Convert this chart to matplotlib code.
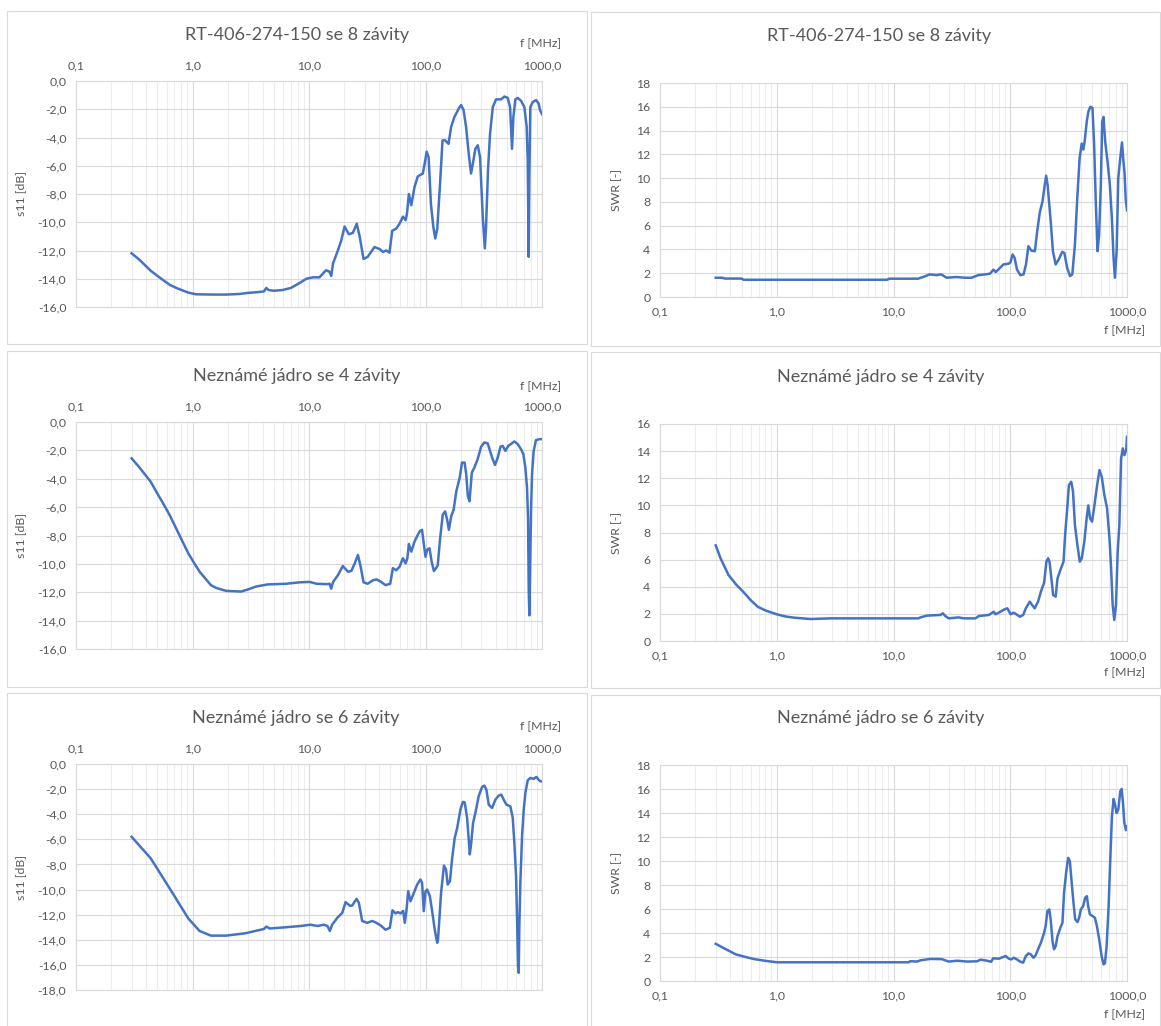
import numpy as np
import matplotlib
matplotlib.use("Agg")
import matplotlib.pyplot as plt
from matplotlib.patches import Rectangle
from matplotlib.ticker import LogLocator, NullFormatter, FuncFormatter

plt.rcParams['font.family'] = ['Lato', 'DejaVu Sans']

# frequency axis (log scale, MHz)
f_ticks = [0.1, 1, 10, 100, 1000]
f_tick_labels = ["0,1", "1,0", "10,0", "100,0", "1000,0"]

titles = ["RT-406-274-150 se 8 závity",
          "Neznámé jádro se 4 závity",
          "Neznámé jádro se 6 závity"]

# --- RT-406-274-150, 8 turns ---
f_s11_8 = [0.3, 0.35, 0.44, 0.55, 0.64, 0.75, 0.92, 1.07, 1.5, 1.94,
           2.5, 3.0, 3.6, 4.1, 4.3, 4.5, 5.0, 5.9, 7.0, 8.3,
           9.5, 10.8, 12.3, 14.0, 15.0, 15.5, 16.1, 17.7, 18.9, 20.2,
           22.0, 23.8, 25.7, 27.2, 29.4, 31.9, 36.5, 40.4, 43.1, 46.0,
           49.1, 51.8, 56.1, 59.9, 64.0, 67.5, 69.3, 72.0, 75.5, 80.5,
           85.9, 94.8, 98.4, 102.3, 106.4, 111.3, 116.6, 121.3, 126.2, 132.8,
           140, 147.5, 157.5, 166, 177, 193, 202, 212, 223, 235,
           246, 255, 268, 281, 294, 310, 323, 331, 344, 358,
           378, 403, 445, 476, 508, 532, 553, 568, 591, 619,
           661, 706, 739, 754, 769, 779, 794, 832, 888, 936,
           961, 1000]
s11_8 = [-12.2, -12.65, -13.45, -14.05, -14.44, -14.7, -14.98, -15.1, -15.12, -15.12,
         -15.08, -15.0, -14.95, -14.9, -14.65, -14.8, -14.85, -14.8, -14.65, -14.3,
         -14.0, -13.9, -13.9, -13.4, -13.5, -13.8, -12.9, -12.0, -11.3, -10.3,
         -10.85, -10.75, -10.1, -11.0, -12.6, -12.45, -11.75, -11.9, -12.1, -12.0,
         -12.15, -10.6, -10.45, -10.1, -9.6, -9.85, -9.4, -8.0, -8.8, -7.5,
         -6.75, -6.55, -5.85, -5.0, -5.4, -8.7, -10.3, -11.15, -10.45, -7.5,
         -4.2, -4.2, -4.45, -3.25, -2.55, -1.95, -1.7, -2.05, -3.25, -5.15,
         -6.55, -5.85, -4.8, -4.55, -5.4, -9.6, -11.85, -10.3, -6.3, -3.75,
         -1.85, -1.3, -1.3, -1.1, -1.2, -1.85, -4.8, -2.55, -1.3, -1.2,
         -1.4, -1.85, -3.25, -5.6, -12.45, -6.8, -1.85, -1.5, -1.35, -1.6,
         -2.05, -2.35]

f_swr_8 = [0.3, 0.34, 0.36, 0.5, 0.52, 1.0, 3.0, 8.8, 9.2, 16.2,
           17.9, 20.4, 23.3, 25.7, 28.5, 34.6, 40.9, 46.6, 53.3, 60.9,
           67.1, 71.8, 75.1, 81.9, 87.5, 96.7, 100, 104.8, 108.9, 114.3,
           122.1, 130, 136.4, 143, 151.7, 162.5, 170, 179, 189, 196,
           203, 209, 222, 232, 245, 260, 279, 291, 307, 325,
           340, 358, 375, 393, 409, 423, 434, 452, 467, 486,
           506, 523, 540, 559, 577, 597, 613, 629, 650, 681,
           713, 742, 767, 788, 815, 842, 876, 906, 930, 952,
           975, 1000]
swr_8 = [1.62, 1.62, 1.55, 1.55, 1.45, 1.45, 1.45, 1.45, 1.54, 1.54,
         1.68, 1.9, 1.84, 1.9, 1.62, 1.68, 1.62, 1.62, 1.84, 1.9,
         1.96, 2.3, 2.1, 2.46, 2.74, 2.8, 2.88, 3.58, 3.3, 2.3,
         1.84, 1.9, 2.74, 4.27, 3.9, 3.85, 5.5, 7.1, 8.05, 9.2,
         10.2, 9.4, 6.4, 3.85, 2.74, 3.15, 3.8, 3.7, 2.46, 1.76,
         1.9, 4.4, 8.3, 11.7, 12.9, 12.4, 13.1, 14.75, 15.6, 16.0,
         15.9, 12.8, 8.05, 3.85, 5.25, 9.45, 14.75, 15.15, 13.1, 11.4,
         9.45, 6.65, 3.3, 1.62, 3.85, 10.0, 11.7, 13.0, 11.5, 10.5,
         8.2, 7.3]

# --- unknown core, 4 turns ---
f_s11_4 = [0.3, 0.35, 0.437, 0.5, 0.55, 0.636, 0.75, 0.85, 0.92, 1.0,
           1.15, 1.44, 1.6, 1.94, 2.61, 3.0, 3.5, 4.4, 6.4, 8.3,
           10.1, 11.6, 14.1, 15.0, 15.5, 16.1, 17.7, 19.5, 21.6, 23.1,
           24.7, 26.3, 27.6, 29.4, 31.9, 35.4, 38.3, 41.6, 45.3, 49.8,
           52.5, 56.1, 59.9, 64.0, 67.5, 69.9, 72.0, 75.5, 80.5, 85.9,
           89.8, 93.4, 96.5, 100, 103.3, 108.2, 113, 118, 123.3, 127.4,
           133.5, 140.7, 147.5, 153.5, 158.7, 166.2, 174.2, 183.9, 196.5, 205.8,
           216.6, 223.6, 231, 238.6, 249.8, 262.5, 280, 300, 320, 342,
           358, 378, 395, 417, 440, 460, 485, 514, 550, 579,
           619, 661, 692, 720, 744, 759, 769, 779, 789, 805,
           821, 848, 888, 949, 1000]
s11_4 = [-2.56, -3.2, -4.2, -5.05, -5.63, -6.55, -7.76, -8.68, -9.25, -9.75,
         -10.55, -11.5, -11.7, -11.9, -11.95, -11.8, -11.6, -11.45, -11.4, -11.3,
         -11.27, -11.4, -11.43, -11.4, -11.75, -11.27, -10.8, -10.15, -10.55, -10.5,
         -9.96, -9.37, -10.1, -11.3, -11.4, -11.15, -11.1, -11.27, -11.5, -11.4,
         -10.3, -10.45, -10.2, -9.6, -9.96, -9.6, -8.6, -9.14, -8.43, -7.95,
         -7.67, -7.6, -8.55, -9.5, -9.0, -8.9, -9.85, -10.5, -10.3, -10.1,
         -8.2, -6.53, -6.3, -6.9, -7.6, -6.65, -6.2, -4.88, -3.93, -2.86,
         -2.86, -3.69, -5.23, -5.59, -3.57, -3.22, -2.63, -1.75, -1.44, -1.51,
         -2.04, -2.63, -3.03, -2.5, -1.75, -1.68, -2.04, -1.68, -1.51, -1.37,
         -1.56, -1.92, -2.27, -3.22, -4.64, -6.77, -11.74, -13.63, -10.8, -6.3,
         -3.69, -2.04, -1.28, -1.21, -1.21]

f_swr_4 = [0.3, 0.33, 0.386, 0.45, 0.515, 0.6, 0.687, 0.8, 1.0, 1.2,
           1.41, 1.95, 2.89, 7.7, 16.4, 17.0, 19.3, 25.2, 26.5, 27.8,
           29.7, 36.1, 39.9, 50.3, 53.8, 65.6, 72.2, 74.6, 82.6, 89.2,
           94.4, 100.8, 107, 115, 121, 129, 136, 147, 154, 162,
           173, 183, 195, 204, 211, 217, 225, 233, 245, 254,
           272, 286, 295, 309, 318, 333, 345, 358, 376, 394,
           410, 431, 451, 466, 483, 502, 526, 555, 581, 608,
           640, 675, 708, 731, 754, 778, 805, 832, 860, 890,
           921, 950, 985, 1000]
swr_4 = [7.05, 6.1, 4.87, 4.15, 3.64, 3.0, 2.53, 2.25, 1.97, 1.8,
         1.72, 1.62, 1.67, 1.67, 1.67, 1.74, 1.87, 1.92, 2.04, 1.84,
         1.67, 1.74, 1.67, 1.67, 1.84, 1.92, 2.16, 1.97, 2.16, 2.33,
         2.41, 1.97, 2.09, 1.92, 1.79, 1.92, 2.41, 2.9, 2.65, 2.41,
         2.9, 3.64, 4.3, 5.85, 6.1, 5.85, 4.62, 3.39, 3.27, 4.62,
         5.36, 5.85, 7.81, 10.0, 11.5, 11.74, 11.0, 8.55, 7.08, 5.85,
         6.1, 7.32, 9.04, 10.0, 9.04, 8.8, 10.0, 11.5, 12.6, 12.1,
         10.76, 9.78, 7.57, 5.36, 2.65, 1.55, 2.65, 6.58, 8.55, 13.46,
         14.2, 13.7, 14.08, 15.06]

# --- unknown core, 6 turns ---
f_s11_6 = [0.3, 0.437, 0.636, 0.92, 1.15, 1.44, 1.94, 2.85, 4.1, 4.3,
           4.6, 6.4, 8.5, 10.3, 11.8, 13.4, 14.4, 15.1, 15.8, 17.5,
           19.3, 20.6, 22.5, 23.5, 25.6, 26.8, 28.6, 31.6, 34.9, 37.9,
           41.2, 45.4, 49.4, 52.1, 55.3, 57.9, 61.0, 64.4, 66.4, 68.6,
           71.0, 74.4, 79.4, 84.8, 90.5, 93.5, 96.6, 100, 103.3, 109,
           114, 120, 126, 128, 132, 136, 144, 150, 155, 162,
           169, 178, 187, 199.5, 209, 217, 227.6, 235, 240, 246,
           256, 268, 286, 306, 320, 333, 349, 373, 398, 425,
           448, 469, 495, 535, 561, 579, 599, 611, 623, 631,
           639, 652, 674, 697, 720, 754, 794, 848, 894, 936,
           968, 1000]
s11_6 = [-5.8, -7.5, -9.9, -12.3, -13.3, -13.67, -13.67, -13.48, -13.14, -12.95,
         -13.1, -13.0, -12.9, -12.8, -12.9, -12.8, -12.9, -13.3, -12.8, -12.25,
         -11.86, -11.0, -11.3, -11.27, -10.74, -11.06, -12.5, -12.65, -12.5, -12.65,
         -12.86, -13.2, -13.05, -11.65, -11.9, -11.8, -11.9, -11.7, -12.65, -11.7,
         -10.13, -10.93, -10.27, -9.6, -9.2, -9.47, -11.72, -10.13, -10.0, -10.53,
         -11.72, -13.18, -14.24, -14.0, -12.12, -10.27, -8.09, -8.4, -9.6, -9.34,
         -7.6, -5.9, -5.1, -3.63, -3.02, -3.05, -4.3, -6.02, -7.2, -6.42,
         -4.7, -3.9, -2.57, -1.83, -1.72, -2.04, -3.24, -3.5, -2.84, -2.52,
         -2.44, -2.84, -3.24, -3.37, -4.3, -6.29, -8.94, -12.4, -16.1, -16.63,
         -12.9, -9.47, -5.76, -3.63, -2.3, -1.3, -1.11, -1.19, -1.03, -1.25,
         -1.38, -1.38]

f_swr_6 = [0.3, 0.35, 0.446, 0.55, 0.637, 0.8, 1.0, 7.7, 13.5, 13.9,
           15.9, 17.0, 20.7, 26.0, 29.7, 35.1, 42.7, 52.0, 55.5, 63.3,
           68.6, 71.4, 80.0, 85.4, 91.1, 97.2, 102, 107, 114, 122,
           129, 136, 143, 150, 158, 165, 173, 183, 195, 201,
           208, 216, 222, 230, 237, 245, 254, 272, 280, 289,
           301, 313, 324, 334, 348, 360, 377, 389, 402, 421,
           438, 453, 465, 481, 507, 531, 552, 578, 606, 630,
           647, 669, 696, 719, 743, 768, 789, 815, 842, 876,
           900, 924, 949, 980, 1000]
swr_6 = [3.1, 2.75, 2.22, 1.98, 1.83, 1.68, 1.56, 1.56, 1.56, 1.65,
         1.62, 1.72, 1.84, 1.82, 1.62, 1.69, 1.62, 1.64, 1.78, 1.69,
         1.6, 1.89, 1.86, 1.97, 2.08, 1.86, 1.8, 1.94, 1.8, 1.61,
         1.53, 2.08, 2.3, 2.22, 1.94, 2.14, 2.64, 3.19, 4.02, 4.58,
         5.83, 5.96, 5.13, 3.33, 2.64, 2.91, 3.74, 4.58, 4.85, 7.35,
         9.02, 10.26, 9.99, 8.46, 6.52, 5.13, 4.91, 5.27, 5.96, 6.24,
         6.93, 7.07, 6.24, 5.55, 5.41, 5.27, 4.58, 3.47, 2.08, 1.39,
         1.47, 2.91, 6.24, 10.12, 13.73, 15.17, 14.7, 14.0, 14.28, 15.81,
         16.0, 14.84, 13.18, 12.57, 12.9]

W, H = 1161, 1026
GRID = '#d9d9d9'
MINOR = '#ededed'
TXT = '#595959'
BLUE = '#4472C4'

fig = plt.figure(figsize=(W / 100, H / 100), dpi=100)


def frac(l, t, r, b):
    # pixel box (origin top-left) -> figure fraction
    return [l / W, 1 - b / H, (r - l) / W, (b - t) / H]


def chart(rect, plot, title, tpos, f, vals, ylim, s11, flab_y):
    # chart area frame
    fig.patches.append(Rectangle((rect[0] / W, 1 - rect[3] / H),
                                 (rect[2] - rect[0]) / W, (rect[3] - rect[1]) / H,
                                 transform=fig.transFigure, fill=False,
                                 edgecolor=GRID, lw=0.8))
    fig.text(tpos[0] / W, 1 - tpos[1] / H, title, ha='center', va='center',
             fontsize=13, color=TXT)

    ax = fig.add_axes(frac(*plot))
    ax.plot(f, vals, color=BLUE, lw=1.8, solid_joinstyle='round')
    ax.set_xscale('log')
    ax.set_xlim(0.1, 1000)
    ax.set_ylim(*ylim)
    ax.set_xticks(f_ticks)
    ax.set_xticklabels(f_tick_labels)
    ax.xaxis.set_minor_locator(LogLocator(base=10, subs=range(2, 10)))
    ax.xaxis.set_minor_formatter(NullFormatter())
    ax.set_yticks(np.arange(ylim[0], ylim[1] + 1, 2))
    if s11:
        ax.yaxis.set_major_formatter(
            FuncFormatter(lambda v, p: f"{v:.1f}".replace('.', ',')))
        ax.xaxis.tick_top()
        ax.set_ylabel("s11 [dB]", fontsize=8.8, color=TXT)
        ax.yaxis.set_label_coords(-0.107, 0.5)
        ax.text(0.996, flab_y, "f [MHz]", transform=ax.transAxes,
                ha='center', va='center', fontsize=8.8, color=TXT)
    else:
        ax.yaxis.set_major_formatter(FuncFormatter(lambda v, p: f"{v:.0f}"))
        ax.set_ylabel("SWR [-]", fontsize=8.8, color=TXT)
        ax.yaxis.set_label_coords(-0.081, 0.5)
        ax.text(0.995, flab_y, "f [MHz]", transform=ax.transAxes,
                ha='center', va='center', fontsize=8.8, color=TXT)
    ax.grid(which='major', color=GRID, lw=0.8)
    ax.grid(which='minor', axis='x', color=MINOR, lw=0.8)
    ax.set_axisbelow(True)
    for s in ax.spines.values():
        s.set_color(GRID)
        s.set_linewidth(0.8)
    ax.tick_params(which='both', length=0, labelsize=8.8, labelcolor=TXT, pad=7)
    return ax


chart((7, 11, 587, 344), (76, 81, 542, 307), titles[0], (297, 35),
      f_s11_8, s11_8, (-16, 0), True, 1.164)
chart((591, 12, 1160, 346), (660, 83, 1127, 297), titles[0], (879, 36),
      f_swr_8, swr_8, (0, 18), False, -0.159)
chart((7, 351, 587, 687), (76, 422, 542, 649), titles[1], (297, 376),
      f_s11_4, s11_4, (-16, 0), True, 1.155)
chart((591, 352, 1160, 688), (660, 424, 1127, 641), titles[1], (881, 377),
      f_swr_4, swr_4, (0, 16), False, -0.147)
chart((7, 693, 587, 1030), (76, 764, 542, 990), titles[2], (296, 718),
      f_s11_6, s11_6, (-18, 0), True, 1.164)
chart((591, 695, 1160, 1030), (660, 765, 1127, 981), titles[2], (881, 718),
      f_swr_6, swr_6, (0, 18), False, -0.157)

fig.savefig("out.png", dpi=100, facecolor='white')
